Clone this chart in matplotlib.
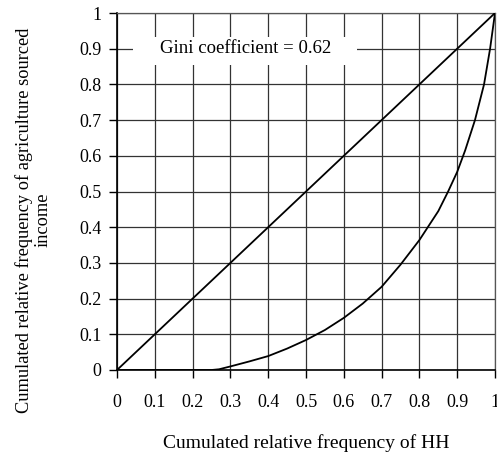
import matplotlib
matplotlib.use("Agg")
import matplotlib.pyplot as plt
from matplotlib.patches import Rectangle

plt.rcParams['font.family'] = ['Liberation Serif', 'DejaVu Serif']

# Data
equality_x = [0.0, 1.0]
equality_y = [0.0, 1.0]

lorenz_x = [0.0, 0.23, 0.25, 0.27, 0.30, 0.35, 0.40, 0.45, 0.50, 0.55, 0.60, 0.65,
            0.70, 0.75, 0.80, 0.85, 0.876, 0.90, 0.921, 0.947, 0.971, 0.987, 1.0]
lorenz_y = [0.0, 0.0, 0.0, 0.002, 0.010, 0.024, 0.039, 0.060, 0.084, 0.112, 0.146, 0.186,
            0.233, 0.295, 0.364, 0.445, 0.50, 0.555, 0.615, 0.70, 0.80, 0.90, 1.0]

ticks = [0, 0.1, 0.2, 0.3, 0.4, 0.5, 0.6, 0.7, 0.8, 0.9, 1]
tick_labels = ['0', '0.1', '0.2', '0.3', '0.4', '0.5', '0.6', '0.7', '0.8', '0.9', '1']

gini_text = "Gini coefficient = 0.62"
xlabel = "Cumulated relative frequency of HH"
ylabel = "Cumulated relative frequency of agriculture sourced\nincome"

W, H = 497, 457
fig = plt.figure(figsize=(W / 100, H / 100), dpi=100)
ax = fig.add_axes([117 / W, 1 - 370 / H, (495 - 117) / W, (370 - 13) / H])

ax.set_xlim(0, 1)
ax.set_ylim(0, 1)
ax.set_xticks(ticks)
ax.set_yticks(ticks)
ax.set_xticklabels(tick_labels, fontsize=13)
ax.set_yticklabels(tick_labels, fontsize=13)
ax.tick_params(axis='both', direction='out', length=6, width=1, color='black')
ax.tick_params(axis='x', pad=11)
ax.tick_params(axis='y', pad=5)

ax.grid(True, color='#333333', linewidth=0.9)
ax.set_axisbelow(True)
for s in ['top', 'right']:
    ax.spines[s].set_color('#555555')
    ax.spines[s].set_linewidth(0.9)
for s in ['left', 'bottom']:
    ax.spines[s].set_color('black')
    ax.spines[s].set_linewidth(1.2)

# white box behind annotation
ax.add_patch(Rectangle((0.042, 0.855), 0.593, 0.078, facecolor='white',
                       edgecolor='none', zorder=1.5))
ax.text(0.34, 0.9, gini_text, fontsize=13.5, ha='center', va='center', zorder=3)

ax.plot(equality_x, equality_y, color='black', linewidth=1.3, zorder=4)
ax.plot(lorenz_x, lorenz_y, color='black', linewidth=1.3, zorder=4)

fig.text(306 / W, 1 - 443 / H, xlabel, fontsize=14, ha='center', va='center')
fig.text(33 / W, 1 - 220 / H, ylabel, fontsize=13.2, ha='center', va='center',
         rotation=90, multialignment='center', linespacing=1.1)

fig.savefig('out.png', dpi=100)
